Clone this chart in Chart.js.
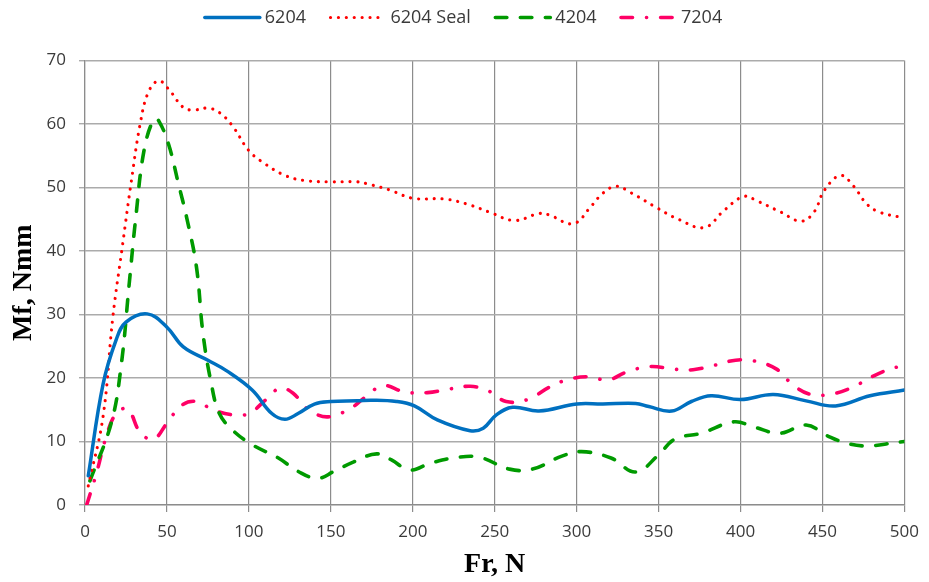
<!DOCTYPE html>
<html>
<head>
<meta charset="utf-8">
<script src="https://cdn.jsdelivr.net/npm/chart.js@4.4.1/dist/chart.umd.min.js"></script>
<style>
  html, body { margin: 0; padding: 0; background: #fff; }
  #wrap { width: 929px; height: 582px; }
</style>
</head>
<body>
<div id="wrap"><canvas id="chart" width="929" height="582"></canvas></div>
<script>
// Fr, N values and Mf, Nmm values
const x6204 = [2, 11, 19, 25, 38, 50, 60, 75, 86, 102, 114, 122, 130, 140, 150, 166, 175, 190, 201, 215, 235, 243, 251, 261, 277, 300, 316, 336, 344, 358, 370, 382, 400, 420, 440, 458, 479, 500];
const y6204 = [4.6, 19, 26, 28.8, 30.1, 28, 24.9, 22.8, 21.2, 18.1, 14.4, 13.5, 14.4, 15.9, 16.3, 16.4, 16.5, 16.3, 15.6, 13.4, 11.7, 12.1, 14.2, 15.4, 14.8, 15.9, 15.9, 16.0, 15.5, 14.8, 16.3, 17.2, 16.6, 17.4, 16.4, 15.6, 17.2, 18.1];

const xSeal = [2, 11, 17, 23, 28, 34, 39, 45, 51, 60, 66, 75, 82, 90, 100, 110, 122, 134, 150, 166, 172, 186, 200, 219, 233, 247, 262, 277, 283, 298, 309, 316, 324, 333, 349, 362, 378, 390, 402, 410, 424, 437, 445, 451, 461, 469, 477, 485, 498];
const ySeal = [3, 13.9, 29.6, 41.1, 50.5, 60.5, 65.2, 66.8, 65.5, 62.6, 62.2, 62.5, 61.8, 59.7, 55.8, 53.7, 51.9, 51.1, 50.9, 50.9, 50.6, 49.6, 48.3, 48.2, 47.4, 46.1, 44.8, 45.9, 45.7, 44.3, 47.1, 49.1, 50.2, 49.2, 46.8, 45, 43.7, 46.4, 48.6, 47.9, 46.2, 44.7, 46.2, 49.5, 51.9, 50.2, 47.4, 46.1, 45.3];

const x4204 = [3, 16, 22, 27, 31, 36, 42, 45, 51, 57, 62, 68, 72, 77, 82, 90, 102, 118, 130, 142, 152, 164, 178, 187, 198, 211, 227, 241, 259, 273, 291, 303, 321, 336, 350, 360, 376, 396, 408, 424, 440, 453, 465, 477, 494, 500];
const y4204 = [3.8, 12.9, 21.8, 34.9, 45.3, 55.8, 60.8, 60.5, 56.8, 50.6, 45.3, 37.5, 27, 19.2, 14.4, 11.8, 9.5, 7.4, 5.3, 4.2, 5.3, 6.8, 8.05, 7.1, 5.5, 6.6, 7.5, 7.5, 5.65, 5.65, 7.7, 8.4, 7.4, 5.2, 7.9, 10.4, 11.3, 13.1, 12.3, 11.3, 12.6, 10.9, 9.7, 9.3, 9.8, 10];

const x7204 = [1, 7, 13, 19, 26, 34, 42, 50, 59, 68, 78, 90, 100, 110, 119, 127, 134, 140, 149, 162, 171, 182, 195, 209, 221, 235, 246, 257, 270, 283, 294, 307, 319, 331, 345, 359, 371, 384, 397, 408, 422, 432, 443, 456, 468, 481, 492, 497];
const y7204 = [0, 5, 10.8, 14.4, 15.1, 11.3, 10.4, 12.9, 15.7, 16.3, 15, 14.2, 14.4, 16.5, 18.4, 17.6, 15.5, 14.4, 13.9, 15.2, 17, 18.8, 17.8, 17.7, 18.2, 18.7, 18, 16.3, 16.6, 18.5, 19.7, 20.2, 19.7, 21, 21.8, 21.4, 21.3, 22, 22.8, 22.7, 21.4, 18.9, 17.4, 17.5, 18.5, 20.3, 21.5, 21.8];

const seriesNames = ['6204', '6204 Seal', '4204', '7204'];
const xTicks = [0, 50, 100, 150, 200, 250, 300, 350, 400, 450, 500];
const yTicks = [0, 10, 20, 30, 40, 50, 60, 70];

function pts(xs, ys) {
	return xs.map((x, i) => ({ x: x, y: ys[i] }));
}

const FONT_SIZE = 17;
const LEGEND_FONT = 18;
const LEGEND_BOX = 67;   // space chart.js reserves in front of each legend text
const SAMPLE_LEN = 55;   // length of the drawn line sample

// legend sits at the top, leave a gap under it before the plot starts
const legendGap = {
	id: 'legendGap',
	beforeLayout(chart) {
		const lg = chart.legend;
		if (lg && !lg._patched) {
			const fit = lg.fit;
			lg.fit = function () {
				fit.call(this);
				this.height += 24;
			};
			lg._patched = true;
		}
	}
};

// chart.js draws a plain box in the legend, draw the real line styles instead
const legendLines = {
	id: 'legendLines',
	afterDraw(chart) {
		const lg = chart.legend;
		if (!lg || !lg.legendHitBoxes) return;
		const ctx = chart.ctx;
		lg.legendHitBoxes.forEach((hb, i) => {
			const ds = chart.data.datasets[i];
			const textX = hb.left + LEGEND_BOX + LEGEND_FONT / 2;
			const y = hb.top + hb.height / 2;
			ctx.save();
			ctx.strokeStyle = ds.borderColor;
			ctx.lineWidth = ds.borderWidth;
			ctx.lineCap = ds.borderCapStyle || 'butt';
			ctx.setLineDash(ds.borderDash || []);
			ctx.beginPath();
			ctx.moveTo(textX - 5 - SAMPLE_LEN, y);
			ctx.lineTo(textX - 5, y);
			ctx.stroke();
			ctx.restore();
		});
	}
};

const tickFont = { family: '"Open Sans", sans-serif', size: FONT_SIZE };
const legendFont = { family: '"Open Sans", sans-serif', size: LEGEND_FONT };
const titleFont = { family: '"Liberation Serif", "Times New Roman", serif', size: 28, weight: 'bold' };

new Chart(document.getElementById('chart'), {
	type: 'line',
	data: {
		datasets: [
			{
				label: seriesNames[0],
				data: pts(x6204, y6204),
				borderColor: '#0070c0',
				borderWidth: 3.5,
				borderCapStyle: 'round',
				borderJoinStyle: 'round'
			},
			{
				label: seriesNames[1],
				data: pts(xSeal, ySeal),
				borderColor: '#ff0000',
				borderWidth: 3.1,
				borderDash: [0.1, 7.8],
				borderCapStyle: 'round'
			},
			{
				label: seriesNames[2],
				data: pts(x4204, y4204),
				borderColor: '#009a00',
				borderWidth: 3.6,
				borderDash: [11.5, 13.5],
				borderCapStyle: 'round'
			},
			{
				label: seriesNames[3],
				data: pts(x7204, y7204),
				borderColor: '#ff0066',
				borderWidth: 3.6,
				borderDash: [11.5, 14, 0.1, 14],
				borderCapStyle: 'round'
			}
		]
	},
	options: {
		responsive: false,
		animation: false,
		devicePixelRatio: 1,
		layout: { padding: { top: 0, right: 18, bottom: 0, left: 0 } },
		elements: {
			point: { radius: 0, hoverRadius: 0 },
			line: { tension: 0.4, fill: false }
		},
		plugins: {
			tooltip: { enabled: false },
			legend: {
				position: 'top',
				align: 'center',
				labels: {
					boxWidth: LEGEND_BOX,
					boxHeight: 4,
					padding: 8.5,
					color: '#3a3a3a',
					font: legendFont,
					generateLabels: (chart) => {
						const items = Chart.defaults.plugins.legend.labels.generateLabels(chart);
						items.forEach(it => {
							it.fillStyle = 'rgba(0,0,0,0)';
							it.strokeStyle = 'rgba(0,0,0,0)';
							it.lineWidth = 0;
						});
						return items;
					}
				}
			}
		},
		scales: {
			x: {
				type: 'linear',
				min: 0,
				max: 500,
				afterFit: (s) => { s.height = 77; },
				afterBuildTicks: (s) => { s.ticks = xTicks.map(v => ({ value: v })); },
				grid: { color: '#8c8c8c', lineWidth: 1.2, tickLength: 7, drawTicks: true },
				border: { color: '#8c8c8c', width: 1.2 },
				ticks: { color: '#3a3a3a', font: tickFont, padding: 10, maxRotation: 0 },
				title: {
					display: true,
					text: 'Fr, N',
					color: '#000',
					font: titleFont,
					padding: { top: 0, bottom: 0 }
				}
			},
			y: {
				min: 0,
				max: 70,
				afterFit: (s) => { s.width = 85; },
				afterBuildTicks: (s) => { s.ticks = yTicks.map(v => ({ value: v })); },
				grid: { color: '#ababab', lineWidth: 1.4, tickLength: 6, drawTicks: true },
				border: { color: '#8c8c8c', width: 1.2 },
				ticks: { color: '#3a3a3a', font: tickFont, padding: 13 },
				title: {
					display: true,
					text: 'Mf, Nmm',
					color: '#000',
					font: titleFont,
					padding: { top: 7, bottom: 0 }
				}
			}
		}
	},
	plugins: [legendGap, legendLines]
});
</script>
</body>
</html>
